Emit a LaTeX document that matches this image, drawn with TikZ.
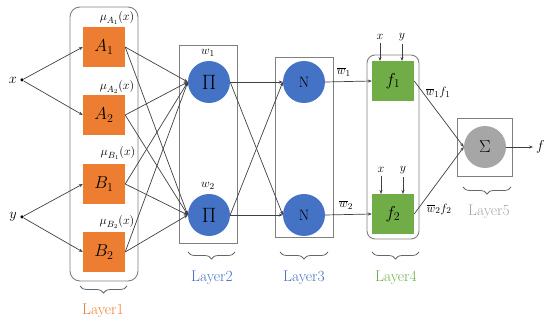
\documentclass[tikz,border=0pt]{standalone}
\usetikzlibrary{arrows.meta,decorations.pathreplacing}
\definecolor{orng}{HTML}{ED7D31}
\definecolor{blu}{HTML}{4472C4}
\definecolor{grn}{HTML}{70AD47}
\definecolor{gry}{HTML}{A6A6A6}
\definecolor{boxgray}{HTML}{7F7F7F}
\definecolor{edgec}{HTML}{404040}
\tikzset{
  mfbox/.style={fill=orng, minimum width=42, minimum height=40, inner sep=0pt, font=\fontsize{17}{20}\selectfont},
  fbox/.style={fill=grn, minimum width=42, minimum height=40, inner sep=0pt, font=\fontsize{17}{20}\selectfont},
  bluecirc/.style={circle, fill=blu, minimum size=42, inner sep=0pt},
  graycirc/.style={circle, fill=gry, minimum size=42, inner sep=0pt},
  layerbox/.style={draw=boxgray, line width=0.9pt, inner sep=0pt},
  conn/.style={draw=edgec, line width=0.7pt, -{Stealth[length=4pt,width=3pt]}},
  brc/.style={draw=edgec!80, line width=0.8pt, decorate, decoration={brace, mirror, amplitude=7pt}},
  laytxt/.style={font=\fontsize{15.5}{18}\selectfont},
  smlab/.style={font=\fontsize{13}{15}\selectfont, inner sep=0pt},
  inlab/.style={font=\fontsize{14}{16}\selectfont, inner sep=0pt},
  dotc/.style={circle, fill=black, minimum size=3.5, inner sep=0pt},
}
\begin{document}
\begin{tikzpicture}[x=1pt,y=-1pt]
\useasboundingbox (0,0) rectangle (550,329);
% layer boxes
\node[layerbox, rounded corners=10pt, minimum width=68, minimum height=274] (L1box) at (104,144) {};
\node[layerbox, minimum width=58, minimum height=198] (L2box) at (208,144) {};
\node[layerbox, minimum width=58, minimum height=180] (L3box) at (304,147) {};
\node[layerbox, rounded corners=8pt, minimum width=52, minimum height=184] (L4box) at (393,147) {};
\node[layerbox, minimum width=55, minimum height=58] (L5box) at (484.5,147) {};
% inputs
\node[dotc] (xin) at (22,80) {};
\node[inlab, anchor=east] (xlab) at (17,80) {$x$};
\node[dotc] (yin) at (22,217) {};
\node[inlab, anchor=east] (ylab) at (17,217) {$y$};
% layer 1
\node[mfbox] (A1) at (104,47) {$A_1$};
\node[mfbox] (A2) at (104,115) {$A_2$};
\node[mfbox] (B1) at (104,184) {$B_1$};
\node[mfbox] (B2) at (104,252) {$B_2$};
\node[smlab] (muA1) at (117,18) {$\mu_{A_1}(x)$};
\node[smlab] (muA2) at (117,87) {$\mu_{A_2}(x)$};
\node[smlab] (muB1) at (118,153) {$\mu_{B_1}(x)$};
\node[smlab] (muB2) at (117,222) {$\mu_{B_2}(x)$};
% layer 2
\node[bluecirc] (P1) at (209,82) {\fontsize{20}{22}\selectfont$\Pi$};
\node[bluecirc] (P2) at (209,215) {\fontsize{20}{22}\selectfont$\Pi$};
\node[smlab] (w1) at (208,53) {$w_1$};
\node[smlab] (w2) at (208,186) {$w_2$};
% layer 3
\node[bluecirc] (N1) at (304,82) {\fontsize{15}{17}\selectfont N};
\node[bluecirc] (N2) at (304,215) {\fontsize{15}{17}\selectfont N};
% layer 4
\node[fbox] (F1) at (393,81) {$f_1$};
\node[fbox] (F2) at (393,214) {$f_2$};
% layer 5
\node[graycirc] (S) at (485,147) {\fontsize{18}{20}\selectfont$\Sigma$};
\coordinate (fout) at (533,147);
\node[inlab, anchor=west] (flab) at (536,147) {$f$};
% x y inputs to f
\node[smlab] (fx1) at (380,37) {$x$};
\node[smlab] (fy1) at (402,37) {$y$};
\node[smlab] (fx2) at (381,170) {$x$};
\node[smlab] (fy2) at (403,170) {$y$};
\draw[conn] (fx1.south) ++(0,3) -- (380,61);
\draw[conn] (fy1.south) ++(0,3) -- (402,61);
\draw[conn] (fx2.south) ++(0,3) -- (381,194);
\draw[conn] (fy2.south) ++(0,3) -- (403,194);
% connectors
\draw[conn] (xin) -- (A1.west);
\draw[conn] (xin) -- (A2.west);
\draw[conn] (yin) -- (B1.west);
\draw[conn] (yin) -- (B2.west);
\foreach \m in {A1,A2,B1,B2}{
  \draw[conn] (\m.east) -- (P1.west);
  \draw[conn] (\m.east) -- (P2.west);
}
\foreach \p in {P1,P2}{
  \draw[conn] (\p.east) -- (N1.west);
  \draw[conn] (\p.east) -- (N2.west);
}
\draw[conn] (N1.east) -- node[smlab, above=5pt, pos=0.4] (wb1) {$\overline{w}_1$} (F1.west);
\draw[conn] (N2.east) -- node[smlab, above=5pt, pos=0.45] (wb2) {$\overline{w}_2$} (F2.west);
\draw[conn] (F1.east) -- (S.west);
\draw[conn] (F2.east) -- (S.west);
\node[smlab] (wf1) at (438,93) {$\overline{w}_1 f_1$};
\node[smlab] (wf2) at (439,209) {$\overline{w}_2 f_2$};
\draw[conn] (S.east) -- (fout);
% braces
\draw[brc] (80,286) -- (127,286);
\draw[brc] (188,252) -- (235,252);
\draw[brc] (280,252) -- (328,252);
\draw[brc] (372,252) -- (419,252);
\draw[brc] (463,187) -- (511,187);
\node[laytxt, text=orng] (lay1) at (103,311) {Layer1};
\node[laytxt, text=blu] (lay2) at (212,278) {Layer2};
\node[laytxt, text=blu] (lay3) at (304,278) {Layer3};
\node[laytxt, text=grn] (lay4) at (396,278) {Layer4};
\node[laytxt, text=gry] (lay5) at (489,212) {Layer5};
\end{tikzpicture}
\end{document}
